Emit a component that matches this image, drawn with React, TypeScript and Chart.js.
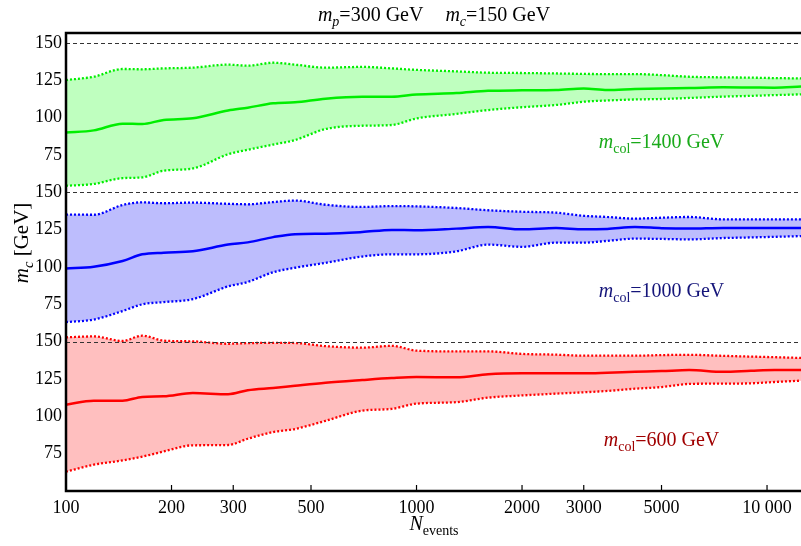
import React, { useEffect, useRef } from "react";
import { Chart, registerables } from "chart.js";

Chart.register(...registerables);

// ---------- data ----------
const N_EVENTS = [100, 120, 145, 165, 190, 230, 290, 330, 390, 450, 550, 700, 850, 1000, 1300, 1600, 2000, 2500, 3000, 3500, 4200, 5000, 6000, 7500, 9000, 10500, 12500];

// m_col = 1400 GeV (green, top panel)
const G_UPPER = [125.2, 127.4, 132.6, 132.4, 133, 133.5, 135.5, 134.8, 136.8, 135.5, 133.5, 134, 133, 132, 131, 130.1, 129.9, 129.6, 129.3, 129.2, 129.2, 128.5, 127.4, 127, 126.8, 126.5, 126.3];
const G_MEDIAN = [90, 91.5, 96, 95.7, 98.5, 99.6, 104.8, 106.7, 109.6, 110.3, 112.7, 114, 114, 115.5, 116.5, 118, 118.3, 118.5, 119.6, 118.5, 119.2, 119.6, 119.8, 120.3, 120.2, 120.1, 120.8];
const G_LOWER = [54.4, 55.6, 59.5, 60, 64.5, 66, 75.5, 78.5, 82, 85, 92.4, 94.6, 95.1, 99.5, 102.5, 105.1, 107, 108.5, 110.7, 111.5, 112.2, 112.5, 113.2, 114.1, 114.6, 115.1, 115.6];

// m_col = 1000 GeV (blue, middle panel)
const B_UPPER = [135.1, 135, 141.5, 143.3, 142.7, 143.1, 142.3, 142, 143.5, 144.5, 141.7, 140.2, 140.8, 140.6, 139.5, 138, 137, 136.4, 134.3, 133.5, 132.4, 133, 133.5, 131.9, 131.9, 131.9, 131.9];
const B_MEDIAN = [99, 100.2, 104, 108.5, 109.6, 110.5, 115, 116.5, 120, 122, 122.3, 123.4, 124.8, 124.6, 125.7, 126.8, 125.2, 126.1, 125.2, 125.5, 126.8, 126, 125.7, 126.1, 126.1, 126.1, 126.1];
const B_LOWER = [63.1, 64.8, 70.5, 75, 76.5, 78.5, 87, 90, 96.5, 99.5, 102.8, 107, 108.5, 108.5, 110.5, 115, 113.5, 116.3, 116.3, 117.5, 119, 118.8, 118.5, 119.4, 119.8, 120.2, 120.7];

// m_col = 600 GeV (red, bottom panel)
const R_UPPER = [152.9, 153.5, 150.5, 154, 150.7, 150.2, 148.6, 149, 149.2, 149.1, 147, 146, 147.2, 144, 143.5, 143.5, 141.8, 141.3, 140.6, 140.6, 140.6, 141, 141.2, 140.5, 140, 139.6, 139.1];
const R_MEDIAN = [107.8, 110.5, 110.5, 113, 113.4, 115.6, 114.8, 117.5, 119, 120.5, 122.5, 124.3, 125.6, 126.3, 126.1, 128.2, 128.8, 128.8, 128.8, 129.2, 129.8, 130.3, 131, 129.8, 130.5, 131, 131];
const R_LOWER = [62.9, 67.6, 70.5, 73, 76.5, 80.6, 80.8, 85, 89.5, 91.5, 97, 103.8, 105, 108.5, 109.5, 112.5, 114, 115.2, 116.1, 117, 118.5, 119.6, 121.7, 121.9, 122.1, 123, 123.9];

// vertical offsets of the three stacked panels (bottom, middle, top)
const PANEL_OFFSETS = [0, 100, 200];
const PANEL_TRUE_MC = 150;
const X_TICKS = [100, 200, 300, 500, 1000, 2000, 3000, 5000, 10000];
const X_TICK_LABELS = ["100", "200", "300", "500", "1000", "2000", "3000", "5000", "10 000"];
const Y_TICK_VALUES = [75, 100, 125, 150];
const PANEL_LABELS = ["600", "1000", "1400"];
const LABEL_ANCHOR_N = 5000;
const LABEL_ANCHOR_MC = 80;

const FONT = "'Liberation Serif', 'Times New Roman', serif";

type Part = { text: string; italic?: boolean; sub?: boolean; gap?: number };

function drawRich(ctx: CanvasRenderingContext2D, parts: Part[], x: number, y: number, size: number, color: string, align: "center" | "left" = "center") {
  const ms = parts.map((p) => {
    const s = p.sub ? size * 0.7 : size;
    ctx.font = `${p.italic ? "italic " : ""}${s}px ${FONT}`;
    const w = p.gap ? p.gap : ctx.measureText(p.text).width;
    return { p, s, w };
  });
  const total = ms.reduce((a, b) => a + b.w, 0);
  let cx = align === "center" ? x - total / 2 : x;
  ctx.fillStyle = color;
  ctx.textAlign = "left";
  ctx.textBaseline = "alphabetic";
  for (const { p, s, w } of ms) {
    if (!p.gap) {
      ctx.font = `${p.italic ? "italic " : ""}${s}px ${FONT}`;
      ctx.fillText(p.text, cx, y + (p.sub ? size * 0.25 : 0));
    }
    cx += w;
  }
}

const PANELS = [
  { upper: R_UPPER, median: R_MEDIAN, lower: R_LOWER, line: "#ff0000", fill: "#ffbfbf", text: "#a00000" },
  { upper: B_UPPER, median: B_MEDIAN, lower: B_LOWER, line: "#0000ff", fill: "#bdbdfd", text: "#15157a" },
  { upper: G_UPPER, median: G_MEDIAN, lower: G_LOWER, line: "#00ee00", fill: "#bfffbf", text: "#1aaa1a" },
];

export default function App() {
  const ref = useRef<HTMLCanvasElement | null>(null);

  useEffect(() => {
    if (!ref.current) return;
    const datasets: any[] = [];
    PANELS.forEach((p, i) => {
      const off = PANEL_OFFSETS[i];
      const mk = (arr: number[]) => N_EVENTS.map((n, k) => ({ x: n, y: arr[k] + off }));
      datasets.push({
        data: mk(p.lower), borderColor: p.line, borderWidth: 2.3, borderDash: [2, 2],
        pointRadius: 0, fill: false, cubicInterpolationMode: "monotone",
      });
      datasets.push({
        data: mk(p.upper), borderColor: p.line, borderWidth: 2.3, borderDash: [2, 2],
        pointRadius: 0, fill: "-1", backgroundColor: p.fill, cubicInterpolationMode: "monotone",
      });
      datasets.push({
        data: mk(p.median), borderColor: p.line, borderWidth: 2.5,
        pointRadius: 0, fill: false, cubicInterpolationMode: "monotone",
      });
    });

    const overlay = {
      id: "overlay",
      afterDatasetsDraw(chart: any) {
        const ctx = chart.ctx as CanvasRenderingContext2D;
        const { left, right, top, bottom } = chart.chartArea;
        const xs = chart.scales.x;
        const ys = chart.scales.y;
        ctx.save();
        // dashed lines at true m_c in each panel
        ctx.strokeStyle = "#333";
        ctx.lineWidth = 1;
        ctx.setLineDash([4, 3]);
        PANEL_OFFSETS.forEach((off) => {
          const y = Math.round(ys.getPixelForValue(PANEL_TRUE_MC + off)) + 0.5;
          ctx.beginPath();
          ctx.moveTo(left, y);
          ctx.lineTo(right, y);
          ctx.stroke();
        });
        ctx.setLineDash([]);
        // frame
        ctx.strokeStyle = "#000";
        ctx.lineWidth = 2.5;
        ctx.beginPath();
        ctx.moveTo(right, top);
        ctx.lineTo(left, top);
        ctx.lineTo(left, bottom);
        ctx.lineTo(right, bottom);
        ctx.stroke();
        // x tick marks (inside)
        ctx.lineWidth = 1.2;
        X_TICKS.forEach((v) => {
          const x = xs.getPixelForValue(v);
          ctx.beginPath();
          ctx.moveTo(x, bottom);
          ctx.lineTo(x, bottom - 6);
          ctx.stroke();
        });
        // panel labels
        PANELS.forEach((p, i) => {
          const x = xs.getPixelForValue(LABEL_ANCHOR_N);
          const y = ys.getPixelForValue(LABEL_ANCHOR_MC + PANEL_OFFSETS[i]);
          drawRich(ctx, [
            { text: "m", italic: true },
            { text: "col", sub: true },
            { text: "=" + PANEL_LABELS[i] + " GeV" },
          ], x, y, 20, p.text);
        });
        // title
        drawRich(ctx, [
          { text: "m", italic: true },
          { text: "p", italic: true, sub: true },
          { text: "=300 GeV" },
          { text: "", gap: 22 },
          { text: "m", italic: true },
          { text: "c", italic: true, sub: true },
          { text: "=150 GeV" },
        ], 434, 21, 20, "#000");
        // x title
        drawRich(ctx, [
          { text: "N", italic: true },
          { text: "events", sub: true },
        ], 434, 530, 20, "#000");
        // y title
        ctx.save();
        ctx.translate(28, 243);
        ctx.rotate(-Math.PI / 2);
        drawRich(ctx, [
          { text: "m", italic: true },
          { text: "c", italic: true, sub: true },
          { text: " [GeV]" },
        ], 0, 0, 21, "#000");
        ctx.restore();
        ctx.restore();
      },
    };

    const yTickVals: number[] = [];
    PANEL_OFFSETS.forEach((off) => Y_TICK_VALUES.forEach((v) => yTickVals.push(v + off)));

    const chart = new Chart(ref.current, {
      type: "line",
      data: { datasets },
      options: {
        animation: false,
        responsive: false,
        devicePixelRatio: 1,
        layout: { padding: { top: 33, right: 0, left: 0, bottom: 0 } },
        plugins: {
          legend: { display: false },
          tooltip: { enabled: false },
          filler: { drawTime: "beforeDatasetsDraw" },
        } as any,
        scales: {
          x: {
            type: "logarithmic",
            min: 100,
            max: 12500,
            grid: { display: false, drawTicks: false },
            border: { display: false },
            afterBuildTicks: (s: any) => { s.ticks = X_TICKS.map((v) => ({ value: v })); },
            afterFit: (s: any) => { s.height = 55; },
            ticks: {
              autoSkip: false,
              maxRotation: 0,
              padding: 6,
              color: "#000",
              font: { family: FONT, size: 18 },
              callback: (v: any) => {
                const i = X_TICKS.indexOf(Number(v));
                return i >= 0 ? X_TICK_LABELS[i] : "";
              },
            },
          },
          y: {
            type: "linear",
            min: 50,
            max: 356.7,
            grid: { display: false, drawTicks: false },
            border: { display: false },
            afterBuildTicks: (s: any) => { s.ticks = yTickVals.map((v) => ({ value: v })); },
            afterFit: (s: any) => { s.width = 66; },
            ticks: {
              autoSkip: false,
              padding: 4,
              color: "#000",
              font: { family: FONT, size: 18 },
              callback: (v: any) => {
                const n = Number(v);
                const off = n <= 150 ? 0 : n <= 250 ? 100 : 200;
                return String(n - off);
              },
            },
          },
        },
      },
      plugins: [overlay],
    } as any);
    return () => chart.destroy();
  }, []);

  return (
    <div style={{ position: "absolute", left: 0, top: 0, width: 801, height: 546, background: "#fff" }}>
      <canvas ref={ref} width={801} height={546} style={{ display: "block", width: 801, height: 546 }} />
    </div>
  );
}
